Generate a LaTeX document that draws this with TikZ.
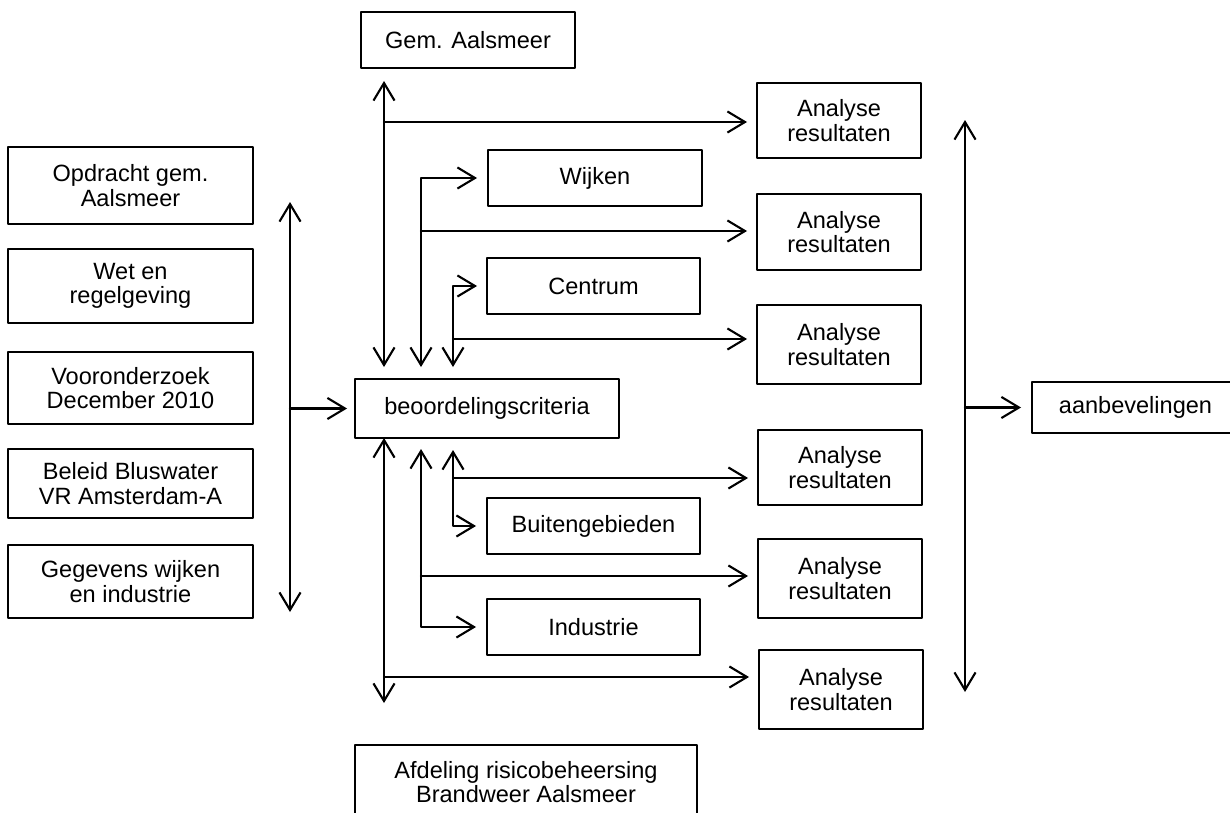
\documentclass[tikz,border=0pt]{standalone}
\usepackage{fontspec}
\setmainfont{Liberation Sans}
\usetikzlibrary{arrows.meta}

\begin{document}
\begin{tikzpicture}[x = 0.02cm, y = -0.02cm, line join = round, line cap = round, >={Straight Barb[length=10pt,width=12pt]}, font = \fontsize{13.4}{13.8}\selectfont,
	blok/.style = {rectangle, line width = .8pt, draw = black, anchor = center, outer sep = 0pt, align = center, inner sep = 0pt},
	pijl/.style = {line width = 1.2pt}]
	%		\draw[gray!50,xstep = 50, ystep = 50] (0,0) grid (1230,812);
	\useasboundingbox (0,0) rectangle (1230,812);
	\clip (0,0) rectangle (1230,812);

	\node[blok, minimum width = 4.28cm, minimum height = 1.12cm] (gem) at (468,40) {Gem. Aalsmeer};

	\node[blok, minimum width = 4.9cm, minimum height = 1.54cm] (opdr) at (130.5,185.5) {Opdracht gem.\\Aalsmeer};
	\node[blok, minimum width = 4.9cm, minimum height = 1.48cm] (wet) at (130.5,286) {Wet en\\regelgeving};
	\node[blok, minimum width = 4.9cm, minimum height = 1.44cm] (voor) at (130.5,388) {Vooronderzoek\\December 2010};
	\node[blok, minimum width = 4.9cm, minimum height = 1.38cm] (beleid) at (130.5,483.5) {Beleid Bluswater\\VR Amsterdam-A};
	\node[blok, minimum width = 4.9cm, minimum height = 1.46cm] (gegev) at (130.5,581.5) {Gegevens wijken\\en industrie};

	\node[blok, minimum width = 5.28cm, minimum height = 1.18cm] (crit) at (487,408.5) {beoordelingscriteria};

	\node[blok, minimum width = 4.28cm, minimum height = 1.12cm] (wijk) at (595,178) {Wijken};
	\node[blok, minimum width = 4.26cm, minimum height = 1.12cm] (centr) at (593.5,286) {Centrum};
	\node[blok, minimum width = 4.26cm, minimum height = 1.12cm] (buiten) at (593.5,526) {Buitengebieden};
	\node[blok, minimum width = 4.26cm, minimum height = 1.12cm] (indus) at (593.5,627) {Industrie};

	\node[blok, minimum width = 6.84cm, minimum height = 1.48cm] (afd) at (526,782) {Afdeling risicobeheersing\\Brandweer Aalsmeer};

	\node[blok, minimum width = 3.28cm, minimum height = 1.5cm] (an1) at (839,120.5) {Analyse\\resultaten};
	\node[blok, minimum width = 3.28cm, minimum height = 1.52cm] (an2) at (839,232) {Analyse\\resultaten};
	\node[blok, minimum width = 3.28cm, minimum height = 1.58cm] (an3) at (839,344.5) {Analyse\\resultaten};
	\node[blok, minimum width = 3.28cm, minimum height = 1.5cm] (an4) at (840,467.5) {Analyse\\resultaten};
	\node[blok, minimum width = 3.28cm, minimum height = 1.58cm] (an5) at (840,578.5) {Analyse\\resultaten};
	\node[blok, minimum width = 3.28cm, minimum height = 1.58cm] (an6) at (841,689.5) {Analyse\\resultaten};

	\node[blok, minimum width = 4.14cm, minimum height = 1.02cm] (aanb) at (1135.5,407.5) {aanbevelingen};

	% lijnen
	\coordinate (x1) at (384,0);
	\coordinate (x2) at (421,0);
	\coordinate (x3) at (453,0);
	\coordinate (lT) at (290,202);
	\coordinate (lB) at (290,612);
	\coordinate (rT) at (965,120);
	\coordinate (rB) at (965,692);
	\coordinate (onder) at (384,703);
	\coordinate (k1) at (384,122);
	\coordinate (k2) at (421,231);
	\coordinate (k3) at (453,339);
	\coordinate (k4) at (453,478);
	\coordinate (k5) at (421,576);
	\coordinate (k6) at (384,677);

	\draw[pijl, <->] (lT) -- (lB);
	\draw[pijl, ->, shorten >= 1.6mm] (lT |- crit.west) -- (crit.west);

	\draw[pijl, <->, shorten <= 2.6mm, shorten >= 2.4mm] (gem.south -| x1) -- (crit.north -| x1);
	\draw[pijl, <->, shorten <= 2.2mm, shorten >= 2.4mm] (wijk.west) -| (crit.north -| x2);
	\draw[pijl, <->, shorten <= 2mm, shorten >= 2.4mm] (centr.west) -| (crit.north -| x3);

	\draw[pijl, <->] (crit.south -| x1) -- (onder);
	\draw[pijl, <->, shorten <= 2.2mm, shorten >= 2.2mm] (crit.south -| x2) |- (indus.west);
	\draw[pijl, <->, shorten <= 2.4mm, shorten >= 2.2mm] (crit.south -| x3) |- (buiten.west);

	\draw[pijl, ->, shorten >= 2mm] (k1) -- (k1 -| an1.west);
	\draw[pijl, ->, shorten >= 2mm] (k2) -- (k2 -| an2.west);
	\draw[pijl, ->, shorten >= 2mm] (k3) -- (k3 -| an3.west);
	\draw[pijl, ->, shorten >= 2mm] (k4) -- (k4 -| an4.west);
	\draw[pijl, ->, shorten >= 2mm] (k5) -- (k5 -| an5.west);
	\draw[pijl, ->, shorten >= 2mm] (k6) -- (k6 -| an6.west);

	\draw[pijl, <->] (rT) -- (rB);
	\draw[pijl, ->, shorten >= 2.2mm] (rT |- aanb.west) -- (aanb.west);
\end{tikzpicture}
\end{document}
